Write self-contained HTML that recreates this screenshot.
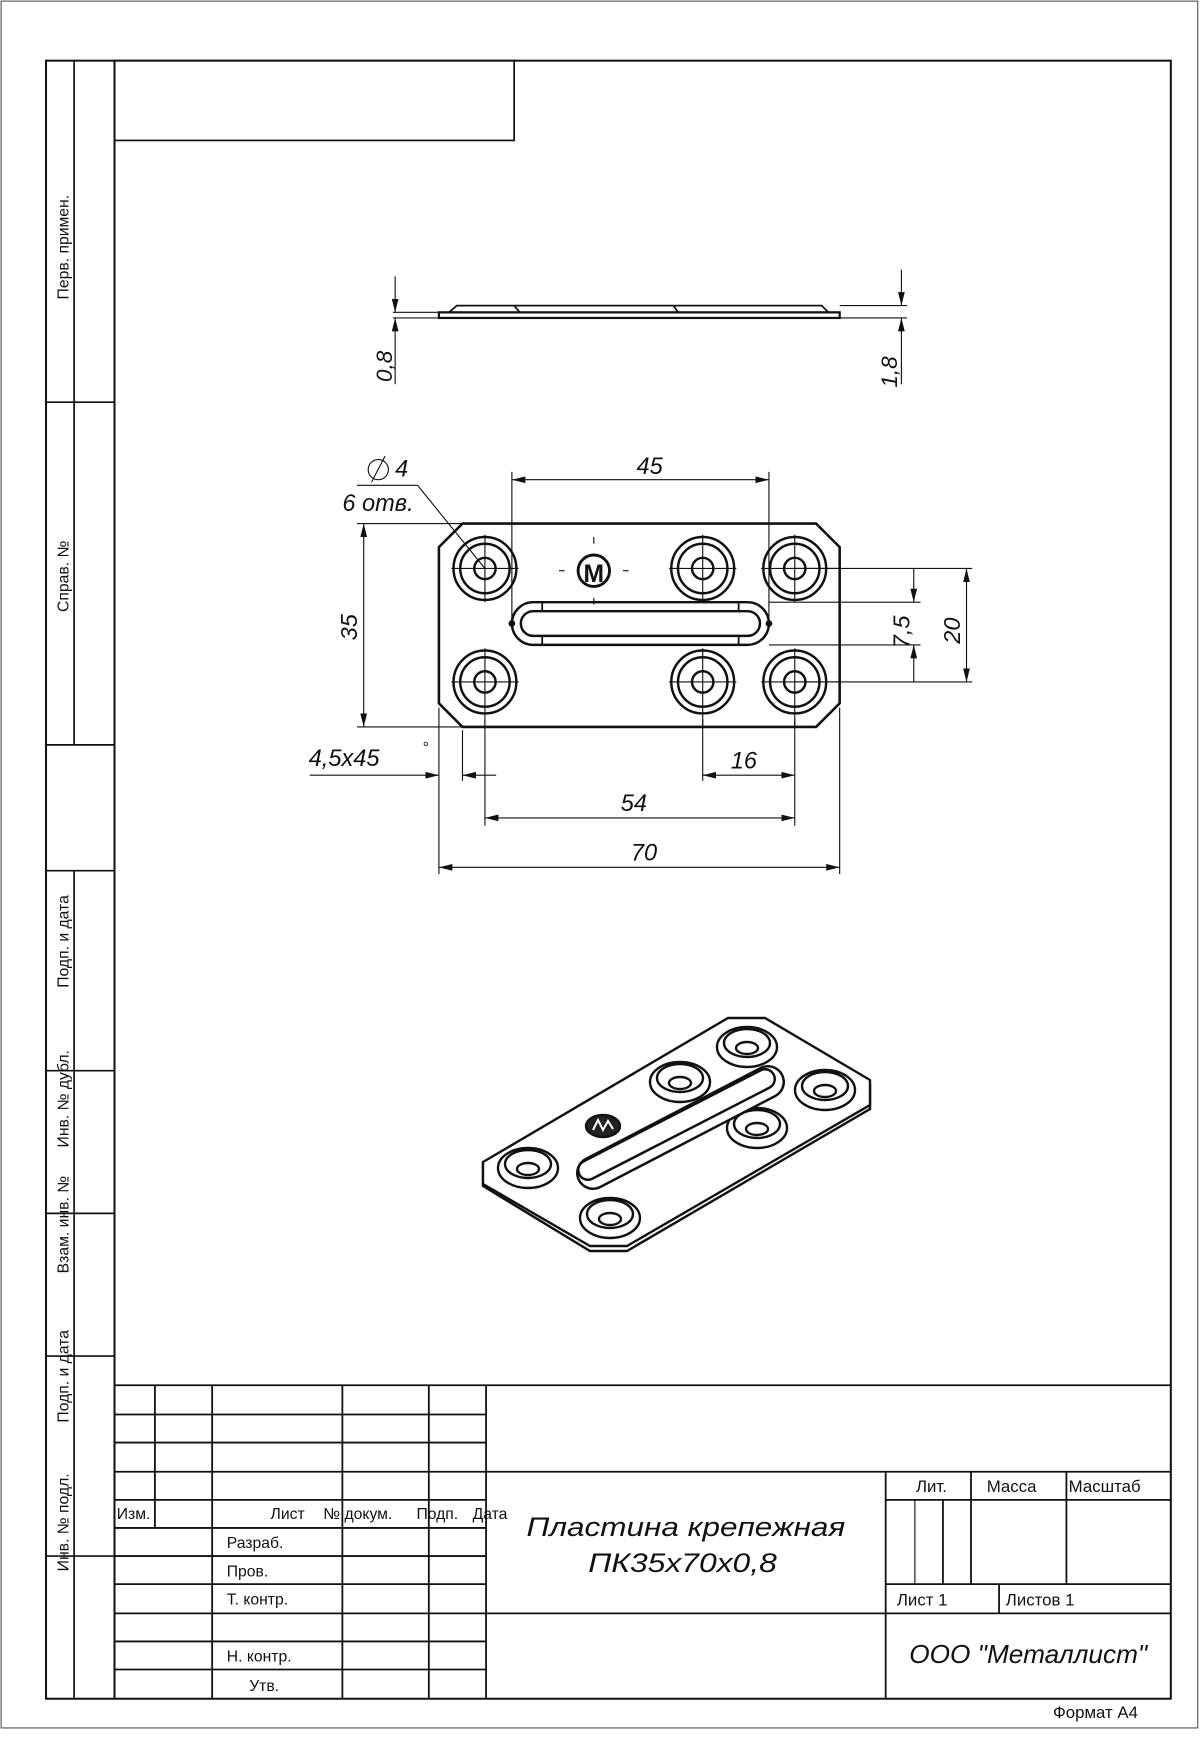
<!DOCTYPE html>
<html><head><meta charset="utf-8"><style>
html,body{margin:0;padding:0;background:#fff}
svg{display:block}
text{font-family:"Liberation Sans","DejaVu Sans",sans-serif;fill:#111}
.it{font-style:italic}
</style></head><body>
<svg width="1200" height="1760" viewBox="0 0 1200 1760" xmlns="http://www.w3.org/2000/svg">
<defs>
<marker id="a" viewBox="0 0 12 6" refX="12" refY="3" markerWidth="12" markerHeight="6" markerUnits="userSpaceOnUse" orient="auto-start-reverse"><path d="M0,0 L12,3 L0,6 z" fill="#111"/></marker>
</defs>
<g transform="scale(1.12254,1.1235)" stroke="#111" fill="none">
<rect x="1" y="1" width="1066" height="1537" stroke="#555" stroke-width="1"/>
<rect x="41" y="54" width="1002" height="1458" stroke-width="1.8"/>
<line x1="102" y1="54" x2="102" y2="1512" stroke-width="1.8"/>
<line x1="66" y1="54" x2="66" y2="663" stroke-width="1.5"/>
<line x1="66" y1="775" x2="66" y2="1512" stroke-width="1.5"/>
<g stroke-width="1.5">
<line x1="41" y1="358" x2="102" y2="358"/><line x1="41" y1="663" x2="102" y2="663"/>
<line x1="41" y1="775" x2="102" y2="775"/><line x1="41" y1="953" x2="102" y2="953"/>
<line x1="41" y1="1080" x2="102" y2="1080"/><line x1="41" y1="1207" x2="102" y2="1207"/>
<line x1="41" y1="1385" x2="102" y2="1385"/>
</g>
<rect x="102" y="54" width="356" height="71" stroke-width="1.5"/>
<g stroke="none" font-size="14">
<text transform="translate(61,220) rotate(-90)" text-anchor="middle">Перв. примен.</text>
<text transform="translate(61,513) rotate(-90)" text-anchor="middle">Справ. №</text>
<text transform="translate(61,838) rotate(-90)" text-anchor="middle">Подп. и дата</text>
<text transform="translate(61,978) rotate(-90)" text-anchor="middle">Инв. № дубл.</text>
<text transform="translate(61,1090) rotate(-90)" text-anchor="middle">Взам. инв. №</text>
<text transform="translate(61,1225) rotate(-90)" text-anchor="middle">Подп. и дата</text>
<text transform="translate(61,1355) rotate(-90)" text-anchor="middle">Инв. № подл.</text>
</g>
<g stroke-width="1.6">
<line x1="102" y1="1233" x2="1043" y2="1233"/>
<line x1="102" y1="1259" x2="433" y2="1259"/><line x1="102" y1="1284" x2="433" y2="1284"/>
<line x1="102" y1="1310" x2="1043" y2="1310"/>
<line x1="102" y1="1335" x2="433" y2="1335"/><line x1="102" y1="1360" x2="433" y2="1360"/>
<line x1="102" y1="1385" x2="433" y2="1385"/><line x1="102" y1="1410" x2="433" y2="1410"/>
<line x1="102" y1="1436" x2="1043" y2="1436"/><line x1="102" y1="1461" x2="433" y2="1461"/>
<line x1="102" y1="1486" x2="433" y2="1486"/>
<line x1="138" y1="1233" x2="138" y2="1360"/>
<line x1="189" y1="1233" x2="189" y2="1512"/>
<line x1="305" y1="1233" x2="305" y2="1512"/>
<line x1="382" y1="1233" x2="382" y2="1512"/>
<line x1="433" y1="1233" x2="433" y2="1512"/>
<line x1="789" y1="1310" x2="789" y2="1512"/>
<line x1="789" y1="1335" x2="1043" y2="1335"/>
<line x1="789" y1="1410" x2="1043" y2="1410"/>
<line x1="865" y1="1310" x2="865" y2="1410"/>
<line x1="950" y1="1310" x2="950" y2="1410"/>
<line x1="890" y1="1410" x2="890" y2="1436"/>
<line x1="815" y1="1335" x2="815" y2="1410" stroke-width="1"/>
<line x1="840" y1="1335" x2="840" y2="1410"/>
</g>
<g stroke="none" font-size="14">
<text x="104" y="1352">Изм.</text>
<text x="241" y="1352">Лист</text>
<text x="288" y="1352">№ докум.</text>
<text x="371" y="1352">Подп.</text>
<text x="421" y="1352">Дата</text>
<text x="202" y="1378">Разраб.</text>
<text x="202" y="1403">Пров.</text>
<text x="202" y="1428">Т. контр.</text>
<text x="202" y="1479">Н. контр.</text>
<text x="222" y="1505">Утв.</text>
<text x="816" y="1328" font-size="15">Лит.</text>
<text x="879" y="1328" font-size="15">Масса</text>
<text x="952" y="1328" font-size="15">Масштаб</text>
<text x="799" y="1429" font-size="15">Лист 1</text>
<text x="896" y="1429" font-size="15">Листов 1</text>
<text x="938" y="1529" font-size="15">Формат А4</text>
<text class="it" x="611" y="1367" font-size="24" text-anchor="middle" textLength="284" lengthAdjust="spacingAndGlyphs">Пластина  крепежная</text>
<text class="it" x="608" y="1399" font-size="24" text-anchor="middle" textLength="168" lengthAdjust="spacingAndGlyphs">ПК35х70х0,8</text>
<text class="it" x="916" y="1480" font-size="23" text-anchor="middle" textLength="212" lengthAdjust="spacingAndGlyphs">ООО  "Металлист"</text>
</g>

<rect x="391" y="278" width="357" height="5" stroke-width="2"/>
<path d="M400,278 L407,272 L458,272 L463,278 M458,272 L600,272 L604,278 M600,272 L732,272 L738,278" stroke-width="1.6"/>
<g stroke-width="1">
<line x1="350" y1="278" x2="391" y2="278"/><line x1="350" y1="283" x2="391" y2="283"/>
<line x1="352" y1="246" x2="352" y2="278" marker-end="url(#a)"/>
<line x1="352" y1="342" x2="352" y2="283" marker-end="url(#a)"/>
<line x1="748" y1="272" x2="808" y2="272"/><line x1="748" y1="283" x2="808" y2="283"/>
<line x1="803" y1="240" x2="803" y2="272" marker-end="url(#a)"/>
<line x1="803" y1="342" x2="803" y2="283" marker-end="url(#a)"/>
</g>
<text class="it" transform="translate(349,340) rotate(-90)" font-size="20" stroke="none">0,8</text>
<text class="it" transform="translate(799,345) rotate(-90)" font-size="20" stroke="none">1,8</text>

<path d="M412,466 L727,466 L748,487 L748,626 L727,647 L412,647 L391,626 L391,487 Z" stroke-width="2.3"/>
<g stroke-width="2.2">
<g id="h"><circle cx="432" cy="506" r="28"/><circle cx="432" cy="506" r="22"/><circle cx="432" cy="506" r="9.5"/></g>
<use href="#h" x="194"/><use href="#h" x="276"/>
<use href="#h" y="101"/><use href="#h" x="194" y="101"/><use href="#h" x="276" y="101"/>
</g>
<g stroke-width="1">
<path d="M402,506 L462,506 M432,476 L432,536 M596,506 L656,506 M626,476 L626,536 M678,506 L748,506 M708,476 L708,536 M402,607 L462,607 M432,577 L432,647 M596,607 L656,607 M626,577 L626,647 M678,607 L748,607 M708,577 L708,647"/>
</g>
<path d="M475,536 L666,536 A19,19 0 0 1 666,574 L475,574 A19,19 0 0 1 475,536 Z" stroke-width="2.2"/>
<path d="M475,544 L666,544 A11,11 0 0 1 666,566 L475,566 A11,11 0 0 1 475,544 Z" stroke-width="2.2"/>
<path d="M483,536 L483,544 M483,566 L483,574 M658,536 L658,544 M658,566 L658,574" stroke-width="1.6"/>
<circle cx="456" cy="555" r="2.5" fill="#111"/><circle cx="685" cy="555" r="2.5" fill="#111"/>
<circle cx="529" cy="508" r="14" stroke-width="2.6"/>
<text x="529" y="518" font-size="22" font-weight="bold" text-anchor="middle" stroke="none">M</text>
<path d="M529,478 v6 M529,532 v6 M498,508 h5 M555,508 h5" stroke-width="1"/>
<g stroke-width="1">
<line x1="456" y1="420" x2="456" y2="555"/><line x1="685" y1="420" x2="685" y2="555"/>
<line x1="456" y1="427" x2="685" y2="427" marker-start="url(#a)" marker-end="url(#a)"/>
<line x1="318" y1="432" x2="372" y2="432"/><line x1="372" y1="432" x2="432" y2="506"/>
<line x1="318" y1="466" x2="412" y2="466"/><line x1="318" y1="647" x2="412" y2="647"/>
<line x1="324" y1="466" x2="324" y2="647" marker-start="url(#a)" marker-end="url(#a)"/>
<line x1="685" y1="536" x2="820" y2="536"/><line x1="685" y1="574" x2="820" y2="574"/>
<line x1="708" y1="506" x2="866" y2="506"/><line x1="708" y1="607" x2="866" y2="607"/>
<line x1="814" y1="506" x2="814" y2="536" marker-end="url(#a)"/>
<line x1="814" y1="607" x2="814" y2="574" marker-end="url(#a)"/>
<line x1="861" y1="506" x2="861" y2="607" marker-start="url(#a)" marker-end="url(#a)"/>
<line x1="391" y1="630" x2="391" y2="778"/><line x1="412" y1="650" x2="412" y2="695"/>
<line x1="432" y1="640" x2="432" y2="735"/><line x1="626" y1="640" x2="626" y2="695"/>
<line x1="708" y1="640" x2="708" y2="735"/><line x1="748" y1="630" x2="748" y2="778"/>
<line x1="276" y1="690" x2="391" y2="690" marker-end="url(#a)"/>
<line x1="442" y1="690" x2="412" y2="690" marker-end="url(#a)"/>
<line x1="626" y1="690" x2="708" y2="690" marker-start="url(#a)" marker-end="url(#a)"/>
<line x1="432" y1="728" x2="708" y2="728" marker-start="url(#a)" marker-end="url(#a)"/>
<line x1="391" y1="772" x2="748" y2="772" marker-start="url(#a)" marker-end="url(#a)"/>
<circle cx="337" cy="418" r="9"/><line x1="331" y1="429" x2="343" y2="406"/>
</g>
<g font-size="21" stroke="none">
<text class="it" x="352" y="424">4</text>
<text class="it" x="305" y="455">6  отв.</text>
<text class="it" x="567" y="422">45</text>
<text class="it" transform="translate(318,570) rotate(-90)">35</text>
<text class="it" transform="translate(810,577) rotate(-90)">7,5</text>
<text class="it" transform="translate(855,573) rotate(-90)">20</text>
<text class="it" x="275" y="682">4,5х45</text>
<text class="it" x="376" y="670" font-size="14">°</text>
<text class="it" x="651" y="684">16</text>
<text class="it" x="553" y="722">54</text>
<text class="it" x="562" y="766">70</text>
</g>
</g>

<g stroke="#111" fill="none" stroke-width="2.4">
<path d="M483,1162 L483,1186 L590,1251 L627,1251 L870,1109 L870,1084"/>
<path d="M483,1162 L728,1018 L765,1018 L870,1080 L870,1105 L627,1246 L590,1246 L483,1184 Z" fill="#fff"/>
<g id="e">
<ellipse cx="747" cy="1047" rx="30" ry="20"/>
<ellipse cx="747" cy="1043" rx="23" ry="14"/>
<ellipse cx="747" cy="1048" rx="11" ry="6"/>
</g>
<use href="#e" x="-67" y="35"/><use href="#e" x="78" y="43"/><use href="#e" x="10" y="81"/>
<use href="#e" x="-219" y="121"/><use href="#e" x="-137" y="171"/>
<line x1="593" y1="1173" x2="768" y2="1082" stroke-width="34" stroke-linecap="round"/>
<line x1="593" y1="1173" x2="768" y2="1082" stroke="#fff" stroke-width="29" stroke-linecap="round"/>
<line x1="588" y1="1170" x2="765" y2="1079" stroke-width="22" stroke-linecap="round"/>
<line x1="588" y1="1170" x2="765" y2="1079" stroke="#fff" stroke-width="17" stroke-linecap="round"/>
<ellipse cx="603" cy="1126" rx="17" ry="11" fill="#222"/>
<path d="M593,1130 L598,1120 L603,1130 L608,1121 L613,1129" stroke="#fff" stroke-width="2"/>
</g>
</svg>
</body></html>
